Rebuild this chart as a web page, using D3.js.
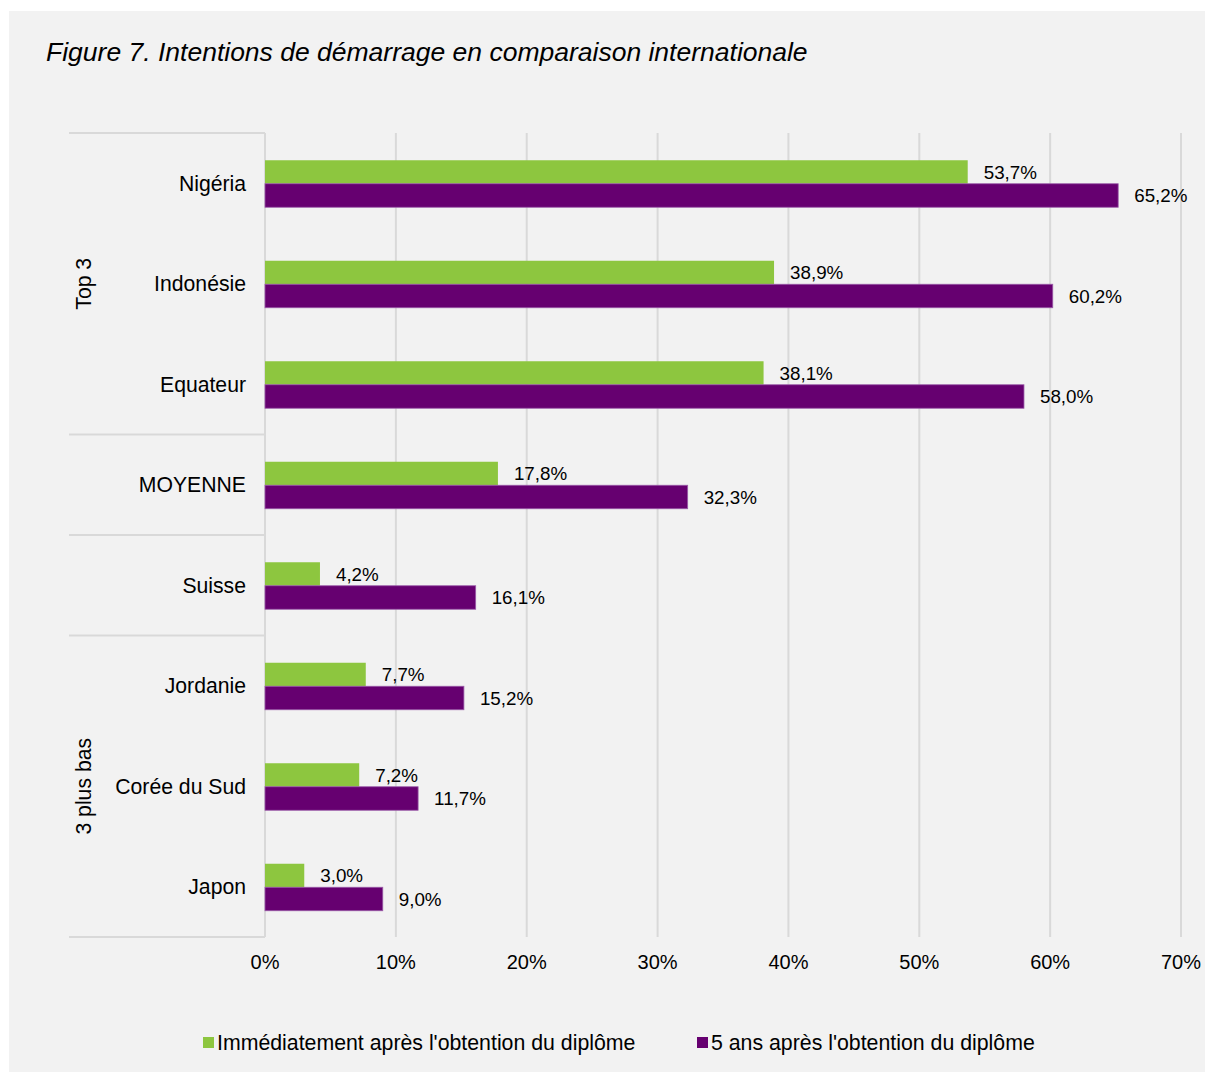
<!DOCTYPE html>
<html><head><meta charset="utf-8">
<script src="https://cdn.jsdelivr.net/npm/d3@7"></script>
<style>
html,body{margin:0;padding:0;background:#fff;}
svg{display:block;font-family:"Liberation Sans",Arial,sans-serif;}
</style></head>
<body>
<svg id="chart" width="1205" height="1072"></svg>
<script>
const categories = ["Nigéria","Indonésie","Equateur","MOYENNE","Suisse","Jordanie","Corée du Sud","Japon"];
const immediate = [53.7,38.9,38.1,17.8,4.2,7.7,7.2,3.0];
const fiveYears = [65.2,60.2,58.0,32.3,16.1,15.2,11.7,9.0];
const seriesNames = ["Immédiatement après l'obtention du diplôme","5 ans après l'obtention du diplôme"];
const ticks = [0,10,20,30,40,50,60,70];
const groupNames = ["Top 3","3 plus bas"];
const groupRanges = [[0,2],[5,7]];
const separatorsAfter = [2,3,4];

const colors = ["#8DC63F","#660070"];
const strokes = ["#a9d66f","#9a5aa8"];
const svg = d3.select("#chart");
svg.append("rect").attr("x",9).attr("y",11).attr("width",1196).attr("height",1061).attr("fill","#f2f2f2");

svg.append("text").attr("x",46).attr("y",61).attr("font-size",26.5).attr("font-style","italic")
  .attr("fill","#000").text("Figure 7. Intentions de démarrage en comparaison internationale");

const x = d3.scaleLinear().domain([0,70]).range([265,1181]);
const y = d3.scaleBand().domain(categories).range([133,937]).paddingInner(0).paddingOuter(0);
const barH = 23.5;
const fmt = v => d3.format(".1f")(v).replace(".",",") + "%";

// gridlines
svg.append("g").selectAll("line").data(ticks.slice(1)).join("line")
  .attr("x1",d=>x(d)).attr("x2",d=>x(d)).attr("y1",133).attr("y2",937)
  .attr("stroke","#d9d9d9").attr("stroke-width",2);

// category axis line and group separators
svg.append("line").attr("x1",x(0)).attr("x2",x(0)).attr("y1",133).attr("y2",937)
  .attr("stroke","#d9d9d9").attr("stroke-width",2);
const sepYs = [y.range()[0], ...separatorsAfter.map(i=>y(categories[i])+y.bandwidth()), y.range()[1]];
svg.append("g").selectAll("line").data(sepYs).join("line")
  .attr("x1",69).attr("x2",x(0)).attr("y1",d=>d).attr("y2",d=>d)
  .attr("stroke","#d9d9d9").attr("stroke-width",2);

// bars
const rows = categories.map((c,i)=>({c, a:immediate[i], b:fiveYears[i]}));
const g = svg.append("g");
const cy = d => y(d.c) + y.bandwidth()/2 + 0.5;
g.selectAll("rect.a").data(rows).join("rect").attr("class","a")
  .attr("x",x(0)).attr("y",d=>cy(d)-barH).attr("width",d=>x(d.a)-x(0)).attr("height",barH)
  .attr("fill",colors[0]);
g.selectAll("rect.b").data(rows).join("rect").attr("class","b")
  .attr("x",x(0)).attr("y",d=>cy(d)).attr("width",d=>x(d.b)-x(0)).attr("height",barH)
  .attr("fill",colors[1]).attr("stroke",strokes[1]).attr("stroke-width",0.8);

// value labels
g.selectAll("text.la").data(rows).join("text").attr("class","la")
  .attr("x",d=>x(d.a)+16).attr("y",d=>cy(d)-barH/2).attr("dy","0.35em")
  .attr("font-size",18.8).attr("fill","#000").text(d=>fmt(d.a));
g.selectAll("text.lb").data(rows).join("text").attr("class","lb")
  .attr("x",d=>x(d.b)+16).attr("y",d=>cy(d)+barH/2).attr("dy","0.35em")
  .attr("font-size",18.8).attr("fill","#000").text(d=>fmt(d.b));

// category labels
svg.append("g").selectAll("text").data(categories).join("text")
  .attr("x",246).attr("y",d=>y(d)+y.bandwidth()/2).attr("dy","0.35em")
  .attr("text-anchor","end").attr("font-size",21.2).attr("fill","#000").text(d=>d);

// group labels
svg.append("g").selectAll("text").data(groupNames).join("text")
  .attr("transform",(d,i)=>{
    const r = groupRanges[i];
    const yc = (y(categories[r[0]]) + y(categories[r[1]]) + y.bandwidth())/2;
    return `translate(84,${yc}) rotate(-90)`;
  })
  .attr("dy","0.35em").attr("text-anchor","middle").attr("font-size",21.2).attr("fill","#000").text(d=>d);

// x tick labels
svg.append("g").selectAll("text").data(ticks).join("text")
  .attr("x",d=>x(d)).attr("y",962).attr("dy","0.35em").attr("text-anchor","middle")
  .attr("font-size",20).attr("fill","#000").text(d=>d+"%");

// legend
const legX = [203,697];
const leg = svg.append("g").selectAll("g").data(seriesNames).join("g")
  .attr("transform",(d,i)=>`translate(${legX[i]},1043)`);
leg.append("rect").attr("x",0).attr("y",-6).attr("width",11).attr("height",11).attr("fill",(d,i)=>colors[i]);
leg.append("text").attr("x",14).attr("y",0).attr("dy","0.35em").attr("font-size",21.3).attr("fill","#000").text(d=>d);
</script>
</body></html>
